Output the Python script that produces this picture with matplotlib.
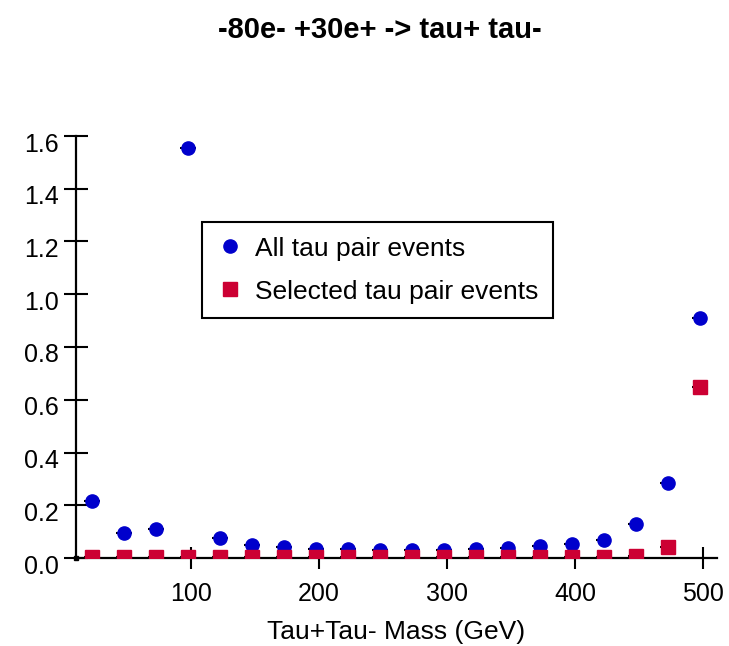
import numpy as np
import matplotlib.pyplot as plt
import matplotlib.transforms as mtransforms

# mass bin centres (GeV)
mass = [22.5, 47.5, 72.5, 97.5, 122.5, 147.5, 172.5, 197.5, 222.5, 247.5,
        272.5, 297.5, 322.5, 347.5, 372.5, 397.5, 422.5, 447.5, 472.5, 497.5]
# all tau pair events
all_events = [0.216, 0.095, 0.11, 1.553, 0.075, 0.049, 0.04, 0.035, 0.034, 0.032,
              0.032, 0.031, 0.034, 0.038, 0.045, 0.053, 0.068, 0.129, 0.285, 0.91]
# selected tau pair events
sel_events = [0.003, 0.003, 0.003, 0.003, 0.003, 0.003, 0.003, 0.003, 0.003, 0.003,
              0.003, 0.003, 0.003, 0.003, 0.003, 0.003, 0.004, 0.008, 0.043, 0.648]
half_bin = 6

plt.rcParams['font.family'] = ['Liberation Sans', 'DejaVu Sans']

fig = plt.figure(figsize=(7.29, 6.46), dpi=100)
ax = fig.add_axes([76/729, 1-558/646, (717-76)/729, (558-136)/646])

blue = '#0000cc'
red = '#cc0033'

ax.errorbar(mass, all_events, xerr=half_bin, fmt='none', ecolor='black', elinewidth=1.5, zorder=2)
ax.errorbar(mass, sel_events, xerr=half_bin, fmt='none', ecolor='black', elinewidth=1.5, zorder=2)
ax.plot(mass, all_events, 'o', color=blue, ms=9.5, mec=blue, zorder=3, label='All tau pair events')
ax.plot(mass, sel_events, 's', color=red, ms=9.5, mec=red, zorder=4, label='Selected tau pair events')

ax.set_xlim(10, 511)
ax.set_ylim(0, 1.6)
ax.plot([10], [0], 's', color='black', ms=3, clip_on=False, zorder=5)

for s in ['top', 'right']:
    ax.spines[s].set_visible(False)
for s in ['left', 'bottom']:
    ax.spines[s].set_linewidth(1.6)

ax.set_xticks([100, 200, 300, 400, 500])
ax.set_yticks(np.arange(0, 1.61, 0.2))
ax.set_yticklabels(['%.1f' % v for v in np.arange(0, 1.61, 0.2)])
ax.tick_params(axis='y', direction='inout', length=17, width=1.5, labelsize=18, pad=4)
ax.tick_params(axis='x', direction='inout', length=16, width=1.5, labelsize=18, pad=9)

offset = mtransforms.ScaledTranslation(0, -6/100, fig.dpi_scale_trans)
for lab in ax.get_yticklabels():
    lab.set_transform(lab.get_transform() + offset)

ax.set_xlabel('Tau+Tau- Mass (GeV)', fontsize=19, labelpad=10)
fig.text(380/729, 1-30/646, '-80e- +30e+ -> tau+ tau-', fontsize=21, fontweight='bold',
         ha='center', va='center')

leg = ax.legend(loc='upper left', bbox_to_anchor=(202/729, 1-222/646),
                bbox_transform=fig.transFigure, borderaxespad=0, fontsize=19,
                fancybox=False, framealpha=1, edgecolor='black', handlelength=1.0,
                handletextpad=0.45, borderpad=0.55, labelspacing=0.72)
leg.get_frame().set_linewidth(1.5)

fig.savefig('out.png', dpi=100)
